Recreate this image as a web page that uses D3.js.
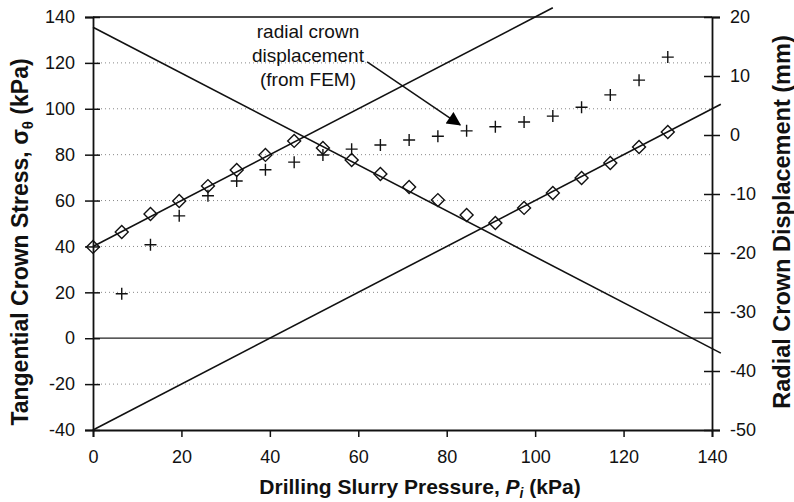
<!DOCTYPE html>
<meta charset="utf-8">
<script src="https://d3js.org/d3.v7.min.js"></script>
<style>
    body { margin: 0; background: #fff; }
    svg text { font-family: "Liberation Sans", Arial, sans-serif; fill: #111; }
</style>

<body>
    <div id="chart"></div>
</body>
<script>

    // pressure values (kPa) where the points were read
    var pressures = [0, 6.5, 13, 19.5, 26, 32.5, 39, 45.5, 52, 58.5, 65, 71.5, 78, 84.5, 91, 97.5, 104, 110.5, 117, 123.5, 130];
    // tangential crown stress (kPa), diamonds, left axis
    var stress = [39.8, 46.3, 54.1, 59.8, 66.3, 73.3, 79.9, 86.0, 82.9, 77.7, 71.6, 65.9, 60.2, 53.7, 50.2, 56.8, 63.3, 69.8, 76.4, 83.3, 89.9];
    // radial crown displacement from FEM (mm), crosses, right axis (starts at 6.5 kPa)
    var femPressures = pressures.slice(1);
    var displacement = [-26.9, -18.6, -13.7, -10.3, -7.8, -5.9, -4.6, -3.4, -2.4, -1.7, -0.85, -0.2, 0.7, 1.4, 2.2, 3.2, 4.7, 6.8, 9.3, 13.2];

    // straight lines of the analytical solution (left axis), [pressure, stress]
    var lineRise1 = [[0, 40], [104, 144]];
    var lineFall = [[0, 135.5], [142, -6.5]];
    var lineRise2 = [[0, -40], [142, 102]];

    var xTicks = [0, 20, 40, 60, 80, 100, 120, 140];
    var leftTicks = [-40, -20, 0, 20, 40, 60, 80, 100, 120, 140];
    var rightTicks = [-50, -40, -30, -20, -10, 0, 10, 20];
    var gridValues = [-20, 20, 40, 60, 80, 100, 120];

    // annotation: text lines and arrow [pressure, stress]
    var noteLines = ["radial crown", "displacement", "(from FEM)"];
    var arrow = [[62, 120.4], [83, 93]];

    var width = 794, height = 502;

    var svg = d3.select("#chart")
        .append("svg")
        .attr("width", width)
        .attr("height", height)

    var x = d3.scaleLinear().domain([0, 140]).range([93, 712])
    var yL = d3.scaleLinear().domain([-40, 140]).range([430, 17])
    var yR = d3.scaleLinear().domain([-50, 20]).range([430, 17])

    // dotted grid
    svg.selectAll(".grid")
        .data(gridValues)
        .enter()
        .append("line")
        .attr("x1", x(0)).attr("x2", x(140))
        .attr("y1", function (d) { return yL(d) })
        .attr("y2", function (d) { return yL(d) })
        .style("stroke", "#888")
        .style("stroke-width", 1)
        .style("stroke-dasharray", "1,3")

    // zero line
    svg.append("line")
        .attr("x1", x(0)).attr("x2", x(140))
        .attr("y1", yL(0)).attr("y2", yL(0))
        .style("stroke", "#222")
        .style("stroke-width", 1.3)

    // top border
    svg.append("line")
        .attr("x1", x(0)).attr("x2", x(140))
        .attr("y1", yL(140)).attr("y2", yL(140))
        .style("stroke", "#111")
        .style("stroke-width", 1.6)

    // axes
    var xAxis = svg.append("g")
        .attr("transform", "translate(0," + yL(-40) + ")")
        .call(d3.axisBottom(x).tickValues(xTicks).tickSize(7).tickPadding(13).tickFormat(function (d) { return String(d) }))

    var leftAxis = svg.append("g")
        .attr("transform", "translate(" + x(0) + ",0)")
        .call(d3.axisLeft(yL).tickValues(leftTicks).tickSize(8).tickPadding(10).tickFormat(function (d) { return String(d) }))

    var rightAxis = svg.append("g")
        .attr("transform", "translate(" + x(140) + ",0)")
        .call(d3.axisRight(yR).tickValues(rightTicks).tickSize(8).tickPadding(10).tickFormat(function (d) { return String(d) }))

    svg.selectAll(".domain").style("stroke", "#111").style("stroke-width", 1.8)
    svg.selectAll(".tick line").style("stroke", "#111").style("stroke-width", 1.5)
    svg.selectAll(".tick text")
        .style("font-size", "18px")
        .style("font-family", "'Liberation Sans', Arial, sans-serif")
        .style("fill", "#111")

    // ticks crossing the vertical axes
    leftAxis.selectAll(".tick line").attr("x2", 7).attr("x1", -8)
    rightAxis.selectAll(".tick line").attr("x1", -8).attr("x2", 8)

    // analytical lines
    var line = d3.line()
        .x(function (d) { return x(d[0]) })
        .y(function (d) { return yL(d[1]) })

    svg.selectAll(".fit")
        .data([lineRise1, lineFall, lineRise2])
        .enter()
        .append("path")
        .attr("d", line)
        .style("fill", "none")
        .style("stroke", "#111")
        .style("stroke-width", 1.6)

    // diamonds
    var diamond = d3.symbol().type(d3.symbolSquare).size(84)
    svg.selectAll(".diamond")
        .data(pressures)
        .enter()
        .append("path")
        .attr("d", diamond)
        .attr("transform", function (d, i) { return "translate(" + x(d) + "," + yL(stress[i]) + ") rotate(45)" })
        .style("fill", "none")
        .style("stroke", "#111")
        .style("stroke-width", 1.4)

    // crosses
    svg.selectAll(".cross")
        .data(femPressures)
        .enter()
        .append("path")
        .attr("d", "M-6,0H6M0,-6V6")
        .attr("transform", function (d, i) { return "translate(" + x(d) + "," + yR(displacement[i]) + ")" })
        .style("stroke", "#111")
        .style("stroke-width", 1.4)

    // annotation
    svg.append("defs").append("marker")
        .attr("id", "head")
        .attr("viewBox", "0 0 10 10")
        .attr("refX", 9).attr("refY", 5)
        .attr("markerWidth", 16).attr("markerHeight", 14)
        .attr("markerUnits", "userSpaceOnUse")
        .attr("orient", "auto")
        .append("path")
        .attr("d", "M0,0L10,5L0,10Z")
        .style("fill", "#000")

    svg.append("path")
        .attr("d", line(arrow))
        .style("stroke", "#111")
        .style("stroke-width", 1.5)
        .attr("marker-end", "url(#head)")

    svg.selectAll(".note")
        .data(noteLines)
        .enter()
        .append("text")
        .attr("x", 308)
        .attr("y", function (d, i) { return 38 + i * 24 })
        .attr("text-anchor", "middle")
        .style("font-size", "19px")
        .text(function (d) { return d })

    // axis titles
    var xt = svg.append("text")
        .attr("x", 420).attr("y", 494)
        .attr("text-anchor", "middle")
        .style("font-size", "21px")
        .style("font-weight", "bold")
    xt.append("tspan").text("Drilling Slurry Pressure, ")
    xt.append("tspan").style("font-style", "italic").text("P")
    xt.append("tspan").style("font-style", "italic").style("font-size", "14px").attr("dy", 4).text("i")
    xt.append("tspan").attr("dy", -4).text(" (kPa)")

    var lt = svg.append("text")
        .attr("transform", "translate(28,242) rotate(-90)")
        .attr("text-anchor", "middle")
        .style("font-size", "23px")
        .style("font-weight", "bold")
    lt.append("tspan").text("Tangential Crown Stress, σ")
    lt.append("tspan").style("font-size", "15px").attr("dy", 5).text("θ")
    lt.append("tspan").attr("dy", -5).text(" (kPa)")

    svg.append("text")
        .attr("transform", "translate(790,222) rotate(-90)")
        .attr("text-anchor", "middle")
        .style("font-size", "23.5px")
        .style("font-weight", "bold")
        .text("Radial Crown Displacement (mm)")

</script>
